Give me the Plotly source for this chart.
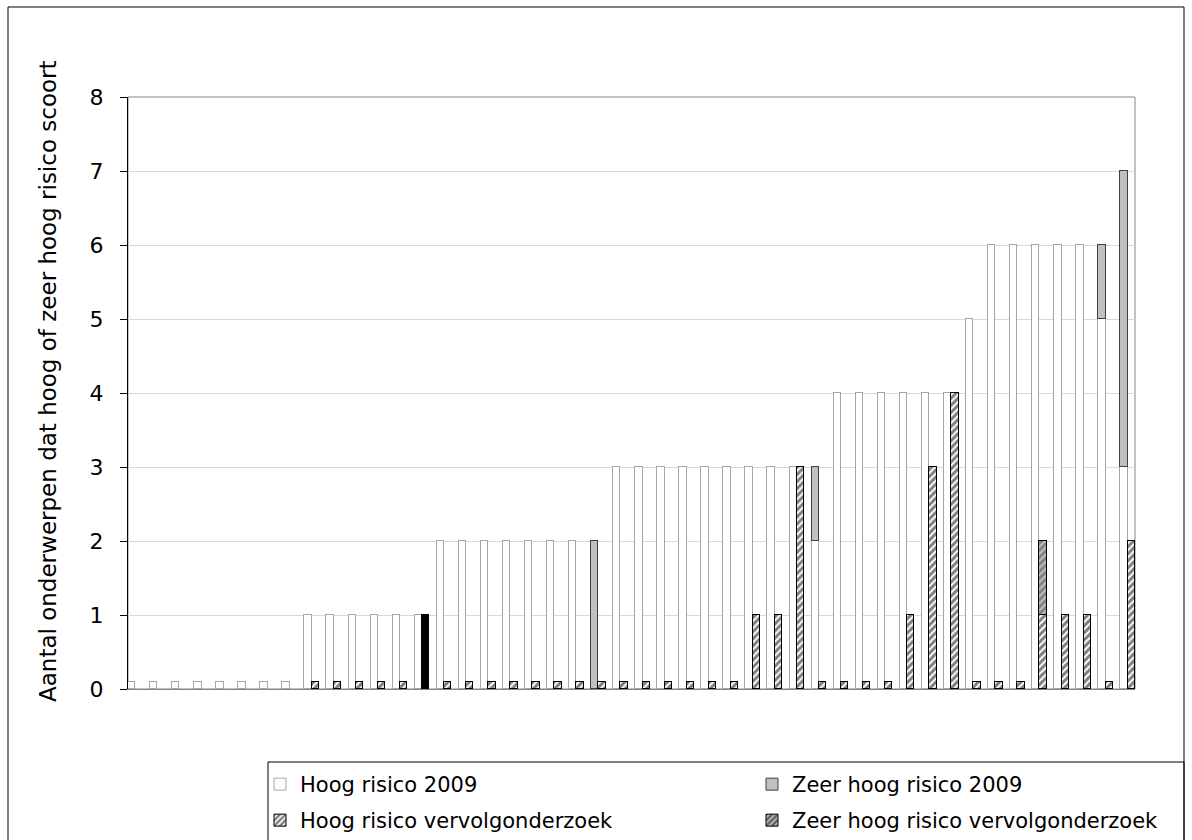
import plotly.graph_objects as go

# ---------------- data (46 onderwerpen, sorted) ----------------
hoog_2009 = [0.1, 0.1, 0.1, 0.1, 0.1, 0.1, 0.1, 0.1,
             1, 1, 1, 1, 1, 1,
             2, 2, 2, 2, 2, 2, 2, None,
             3, 3, 3, 3, 3, 3, 3, 3, 3, 2,
             4, 4, 4, 4, 4, 4,
             5, 6, 6, 6, 6, 6, 5, 3]
zeer_hoog_2009 = [None, None, None, None, None, None, None, None,
                  None, None, None, None, None, None,
                  None, None, None, None, None, None, None, 2,
                  None, None, None, None, None, None, None, None, None, 1,
                  None, None, None, None, None, None,
                  None, None, None, None, None, None, 1, 4]
hoog_vervolg = [None, None, None, None, None, None, None, None,
                0.1, 0.1, 0.1, 0.1, 0.1, None,
                0.1, 0.1, 0.1, 0.1, 0.1, 0.1, 0.1, 0.1,
                0.1, 0.1, 0.1, 0.1, 0.1, 0.1, 1, 1, 3, 0.1,
                0.1, 0.1, 0.1, 1, 3, 4,
                0.1, 0.1, 0.1, 1, 1, 1, 0.1, 2]
zeer_hoog_vervolg = [None, None, None, None, None, None, None, None,
                     None, None, None, None, None, 1,
                     None, None, None, None, None, None, None, None,
                     None, None, None, None, None, None, None, None, None, None,
                     None, None, None, None, None, None,
                     None, None, None, 1, None, None, None, None]
series_names = ["Hoog risico 2009", "Zeer hoog risico 2009",
                "Hoog risico vervolgonderzoek", "Zeer hoog risico vervolgonderzoek"]
y_title = "Aantal onderwerpen dat hoog of zeer hoog risico scoort"
y_ticks = [0, 1, 2, 3, 4, 5, 6, 7, 8]

# ---------------- layout geometry ----------------
W, H = 1192, 840
L, R, T, B = 128, 1135, 97, 689          # plot area in px


def px_x(x):
    return (x - L) / (R - L)


def px_y(y):
    return (B - y) / (B - T)


n = len(hoog_2009)
# each onderwerp: 2009 bar, vervolg bar, then one empty slot
x_2009 = [3 * i for i in range(n)]
x_verv = [3 * i + 1 for i in range(n)]

FONT = "Verdana, DejaVu Sans, sans-serif"

# special solid black bar (index 13)
zv_colors = ["#000000" if i == 13 else "#c0c0c0" for i in range(n)]
zv_shapes = ["" if i == 13 else "/" for i in range(n)]

fig = go.Figure()
fig.add_trace(go.Bar(
    x=x_2009, y=hoog_2009, width=1, name=series_names[0],
    marker=dict(color="white", line=dict(color="#a6a6a6", width=1)),
    legend="legend"))
fig.add_trace(go.Bar(
    x=x_2009, y=zeer_hoog_2009, width=1, name=series_names[1],
    marker=dict(color="#c0c0c0", line=dict(color="#404040", width=1)),
    legend="legend2"))
fig.add_trace(go.Bar(
    x=x_verv, y=hoog_vervolg, width=1, name=series_names[2],
    marker=dict(color="white", line=dict(color="black", width=1),
                pattern=dict(shape="/", fgcolor="black", bgcolor="white",
                             size=5, solidity=0.6)),
    legend="legend3"))
fig.add_trace(go.Bar(
    x=x_verv, y=zeer_hoog_vervolg, width=1, name=series_names[3],
    marker=dict(color=zv_colors, line=dict(color="black", width=1),
                pattern=dict(shape=zv_shapes, fgcolor="black", bgcolor=zv_colors,
                             size=5, solidity=0.6)),
    legend="legend4"))


def leg(xpx, ypx):
    return dict(x=px_x(xpx), y=px_y(ypx), xanchor="left", yanchor="top",
                orientation="v", bgcolor="rgba(0,0,0,0)", borderwidth=0,
                font=dict(family=FONT, size=21, color="black"))


fig.update_layout(
    width=W, height=H,
    margin=dict(l=L, r=W - R, t=T, b=H - B, pad=0, autoexpand=False),
    barmode="stack", bargap=0,
    plot_bgcolor="white", paper_bgcolor="white",
    font=dict(family=FONT, size=22, color="black"),
    showlegend=True,
    legend=leg(260, 764),
    legend2=leg(752, 764),
    legend3=leg(260, 800),
    legend4=leg(752, 800),
    xaxis=dict(range=[-0.5, 3 * n - 1.5], showticklabels=False, ticks="",
               showgrid=False, zeroline=False, showline=True,
               linecolor="#868686", linewidth=1, fixedrange=True),
    yaxis=dict(range=[0, 8], tickvals=y_ticks, ticks="outside", ticklen=7,
               tickcolor="black", showline=True, linecolor="black",
               linewidth=1, showgrid=True, gridcolor="#d9d9d9",
               gridwidth=1, zeroline=False, ticklabelstandoff=12,
               fixedrange=True,
               tickfont=dict(family=FONT, size=22, color="black")),
    shapes=[
        # plot border (top/right gray)
        dict(type="rect", xref="paper", yref="paper", x0=0, x1=1, y0=0, y1=1,
             line=dict(color="#868686", width=1), layer="below"),
        # outer chart frame
        dict(type="rect", xref="paper", yref="paper",
             x0=px_x(8), x1=px_x(1184), y0=px_y(860), y1=px_y(7),
             line=dict(color="black", width=1), layer="below"),
        # legend box
        dict(type="rect", xref="paper", yref="paper",
             x0=px_x(268), x1=px_x(1184), y0=px_y(860), y1=px_y(762),
             line=dict(color="black", width=1), layer="below"),
    ],
    annotations=[
        dict(text=y_title, xref="paper", yref="paper",
             x=px_x(48), y=px_y(381), xanchor="center", yanchor="middle",
             textangle=-90, showarrow=False,
             font=dict(family=FONT, size=23, color="black")),
    ],
)

fig.write_html("out.html",
               config={"displayModeBar": False},
               post_script="document.body.style.margin='0';"
                           "document.body.style.overflow='hidden';")
